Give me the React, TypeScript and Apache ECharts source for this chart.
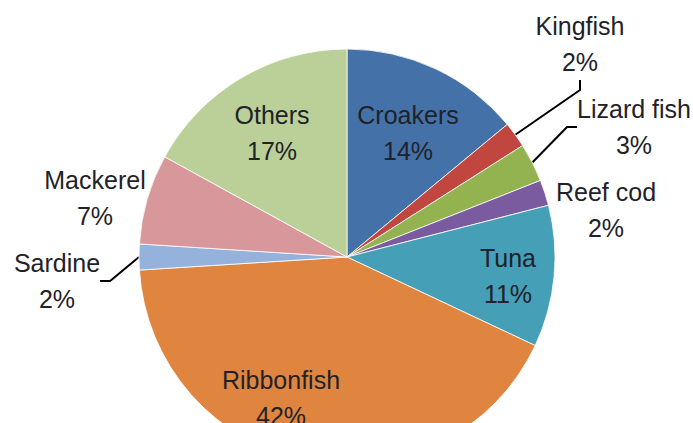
import React, { useEffect, useRef } from "react";
import * as echarts from "echarts";

const categories = ["Croakers", "Kingfish", "Lizard fish", "Reef cod", "Tuna", "Ribbonfish", "Sardine", "Mackerel", "Others"];
const shares = [14, 2, 3, 2, 11, 42, 2, 7, 17];
const colors = ["#4472A8", "#C0463F", "#93B350", "#7B5BA0", "#459FB7", "#DF8540", "#94B2DB", "#D8979A", "#BBD098"];
const withLeader = [false, true, true, false, false, false, true, false, false];
// label block centres (layout only)
const labelCentres: [number, number][] = [
  [408, 133],
  [580, 44],
  [634, 127],
  [606, 210],
  [508, 276],
  [281, 398],
  [57, 281],
  [95, 198],
  [272, 133],
];

export default function App() {
  const ref = useRef<HTMLDivElement>(null);
  useEffect(() => {
    if (!ref.current) return;
    const chart = echarts.init(ref.current, null, { renderer: "svg" });
    chart.setOption({
      animation: false,
      backgroundColor: "#ffffff",
      series: [
        {
          type: "pie",
          center: [347, 257],
          radius: 208,
          startAngle: 90,
          clockwise: true,
          avoidLabelOverlap: false,
          silent: true,
          itemStyle: { borderColor: "#ffffff", borderWidth: 0.8 },
          label: {
            show: true,
            position: "outside",
            formatter: (p: any) => `${p.name}\n${p.value}%`,
            fontFamily: "'Liberation Sans', Arial, sans-serif",
            fontSize: 25,
            lineHeight: 36,
            color: "#1f2228",
            align: "center",
          },
          labelLine: { show: false, length: 10, length2: 10, lineStyle: { color: "#000", width: 2 } },
          labelLayout: (params: any) => {
            const c = labelCentres[params.dataIndex];
            return { x: c[0], y: c[1], align: "center", verticalAlign: "middle" };
          },
          data: categories.map((name, i) => ({
            name,
            value: shares[i],
            itemStyle: { color: colors[i] },
            labelLine: { show: withLeader[i] },
          })),
        },
      ],
    });
    return () => chart.dispose();
  }, []);
  return <div ref={ref} style={{ position: "fixed", left: 0, top: 0, width: 693, height: 423 }} />;
}
